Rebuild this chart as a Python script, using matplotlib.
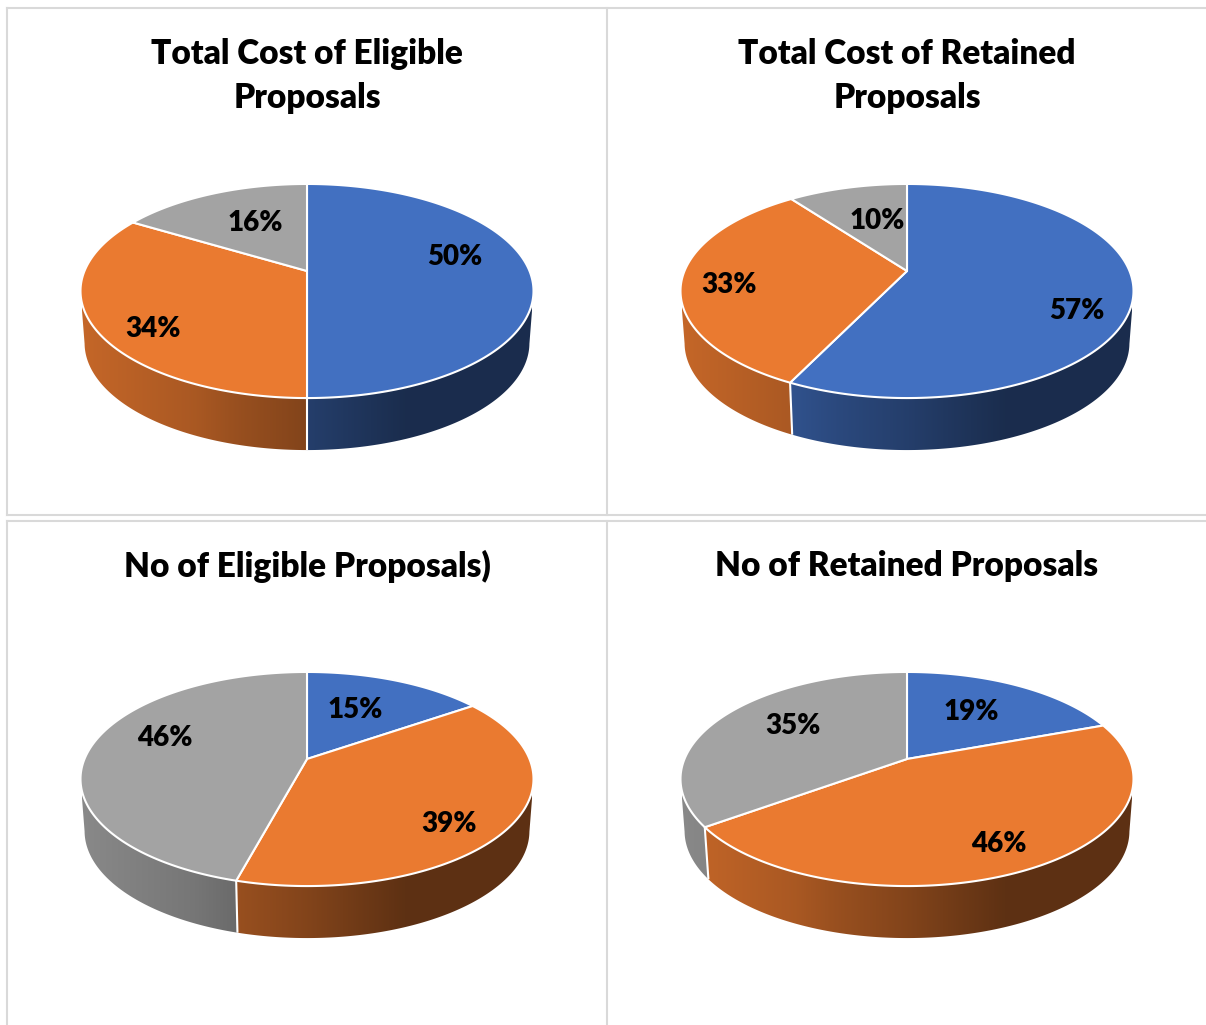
import matplotlib
matplotlib.use('Agg')
import matplotlib.pyplot as plt
from matplotlib.patches import Polygon
import numpy as np

titles = ['Total Cost of Eligible\nProposals', 'Total Cost of Retained\nProposals',
          'No of Eligible Proposals)', 'No of Retained Proposals']
cost_eligible = [50.0, 33.6, 16.4]
cost_retained = [57.2, 32.6, 10.2]
count_eligible = [15.4, 38.8, 45.8]
count_retained = [19.4, 45.6, 35.0]
all_values = [cost_eligible, cost_retained, count_eligible, count_retained]

colors = ['#4270c1', '#ea7a30', '#a3a3a3']

# layout, in pixels of the 1206x1025 picture
centers = [(307, 271), (907, 271), (307, 759), (907, 759)]
title_y = [76, 76, 566, 566]
label_offsets = [
    [(148, -14), (-154, 58), (-52, -48)],
    [(170, 40), (-178, 14), (-30, -50)],
    [(48, -49), (142, 65), (-142, -21)],
    [(64, -47), (92, 85), (-114, -33)],
]
KP = 0.187      # perspective of the disc
RY = 103.3
RX = 222.5
DEPTH = 52
FOOT = 0.982    # lower rim is a little narrower
WIDEST_Y = RY * KP / (1 - KP ** 2)  # height of the widest point of the rim

# darkening of the wall from the left to the right of the pie
shade_x = [0, .25, .345, .5, .72, 1]
shade_f = [.84, .725, .65, .557, .40, .40]


def rim(theta):
    # theta clockwise from the top, returns offsets from the pie center
    u, v = np.sin(theta), np.cos(theta)
    w = 1 + KP * v
    return RX * u / w, -RY * v / w


def draw_pie(ax, cx, cy, values):
    vals = np.array(values, dtype=float)
    edges = np.concatenate([[0], np.cumsum(vals) / vals.sum()]) * 2 * np.pi

    # walls first, a gradient image cut to the shape of the front of each slice
    ramp = np.interp(np.linspace(0, 1, 450), shade_x, shade_f)
    for i in range(len(vals)):
        t = np.linspace(edges[i], edges[i + 1], 300)
        x, y = rim(t)
        keep = y >= WIDEST_Y
        if keep.sum() < 2:
            continue
        x, y = x[keep], y[keep]
        outline = np.column_stack([np.r_[cx + x, cx + x[::-1] * FOOT],
                                   np.r_[cy + y, cy + y[::-1] + DEPTH]])
        wall = Polygon(outline, closed=True, facecolor='none', edgecolor='none')
        ax.add_patch(wall)
        grad = ramp[None, :, None] * np.array(matplotlib.colors.to_rgb(colors[i]))[None, None, :]
        im = ax.imshow(grad, extent=[cx - 225, cx + 225, cy + 200, cy - 60], aspect='auto', zorder=2,
                       interpolation='bilinear')
        im.set_clip_path(wall)

    # white cuts on the visible part of the wall
    for e in edges[:-1]:
        x, y = rim(e)
        if y > WIDEST_Y:
            ax.plot([cx + x, cx + x * FOOT], [cy + y, cy + y + DEPTH], color='white', lw=1.5,
                    zorder=3, solid_capstyle='butt')

    # top of the disc
    for i in range(len(vals)):
        t = np.linspace(edges[i], edges[i + 1], 200)
        x, y = rim(t)
        pts = np.column_stack([np.r_[cx, cx + x], np.r_[cy, cy + y]])
        ax.fill(pts[:, 0], pts[:, 1], facecolor=colors[i], edgecolor='white', lw=1.5, zorder=4,
                joinstyle='round')


fig = plt.figure(figsize=(12.06, 10.25), dpi=100)
ax = fig.add_axes([0, 0, 1, 1])
ax.axis('off')

# table rules between the charts
for x in (7, 607):
    ax.plot([x, x], [8, 515], color='#d9d9d9', lw=1.5, zorder=1)
    ax.plot([x, x], [521, 1025], color='#d9d9d9', lw=1.5, zorder=1)
for y in (8, 515, 521):
    ax.plot([7, 1206], [y, y], color='#d9d9d9', lw=1.5, zorder=1)

for p in range(4):
    cx, cy = centers[p]
    draw_pie(ax, cx, cy, all_values[p])
    ax.text(cx, title_y[p], titles[p], ha='center', va='center', family='Lato', weight='heavy',
            fontsize=24, color='black', linespacing=1.5, zorder=6)
    total = sum(all_values[p])
    for val, off in zip(all_values[p], label_offsets[p]):
        ax.text(cx + off[0], cy + off[1], f'{val / total * 100:.0f}%', ha='center', va='center',
                family='Lato', weight='heavy', fontsize=20, color='black', zorder=6)

ax.set_xlim(0, 1206)
ax.set_ylim(1025, 0)
fig.savefig('out.png', dpi=100)
